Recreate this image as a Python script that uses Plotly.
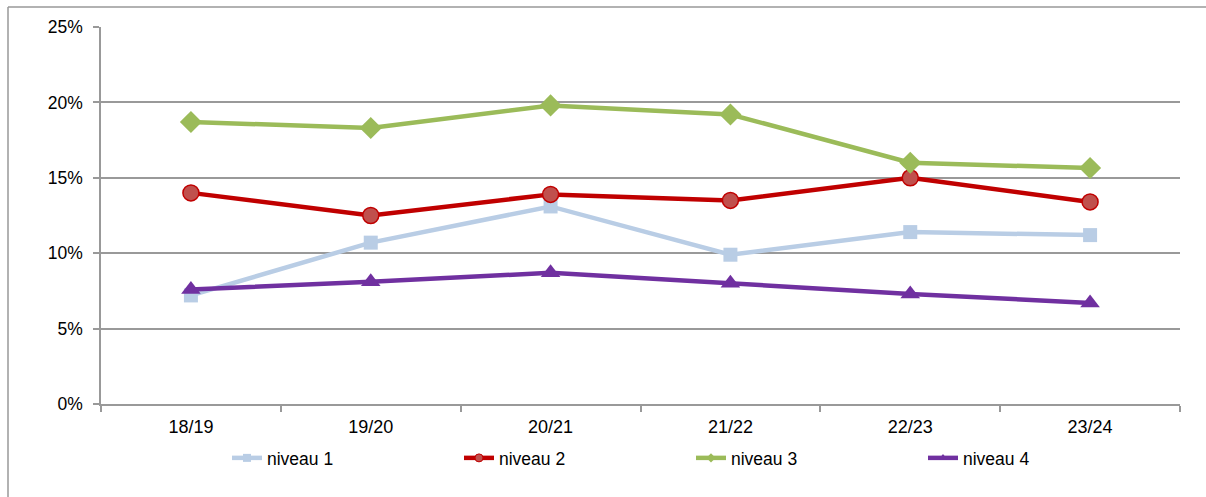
import plotly.graph_objects as go

categories = ["18/19", "19/20", "20/21", "21/22", "22/23", "23/24"]
niveau_1 = [7.2, 10.7, 13.1, 9.9, 11.4, 11.2]
niveau_2 = [14.0, 12.5, 13.9, 13.5, 15.0, 13.4]
niveau_3 = [18.7, 18.3, 19.8, 19.2, 16.0, 15.65]
niveau_4 = [7.6, 8.1, 8.7, 8.0, 7.3, 6.7]
y_ticks = [0, 5, 10, 15, 20, 25]
y_tick_labels = ["0%", "5%", "10%", "15%", "20%", "25%"]
series_names = ["niveau 1", "niveau 2", "niveau 3", "niveau 4"]

FONT = "Liberation Sans, Arial, sans-serif"

styles = [
    dict(line=dict(color="#B9CDE5", width=4.5),
         marker=dict(symbol="square", size=14, color="#B9CDE5"),
         lmarker=dict(symbol="square", size=8, color="#B9CDE5")),
    dict(line=dict(color="#C00000", width=4.5),
         marker=dict(symbol="circle", size=16, color="#C0504D", line=dict(color="#C00000", width=1.5)),
         lmarker=dict(symbol="circle", size=8, color="#C0504D", line=dict(color="#C00000", width=1))),
    dict(line=dict(color="#9BBB59", width=4.5),
         marker=dict(symbol="diamond", size=17, color="#9BBB59"),
         lmarker=dict(symbol="diamond", size=7, color="#9BBB59")),
    dict(line=dict(color="#7030A0", width=4.5),
         marker=dict(symbol="triangle-up", size=17, color="#7030A0"),
         lmarker=dict(symbol="triangle-up", size=8, color="#7030A0")),
]
values = [niveau_1, niveau_2, niveau_3, niveau_4]

fig = go.Figure()
for name, vals, st in zip(series_names, values, styles):
    fig.add_trace(go.Scatter(x=categories, y=vals, name=name, mode="lines+markers",
                             line=st["line"], marker=st["marker"], showlegend=False,
                             legendgroup=name))
# legend entries (smaller legend markers as in the original)
for name, st in zip(series_names, styles):
    fig.add_trace(go.Scatter(x=[categories[0]], y=[None], name=name, mode="lines+markers",
                             line=st["line"], marker=st["lmarker"], showlegend=True,
                             legendgroup=name, hoverinfo="skip"))

L, R, T, B = 101, 26, 27, 93
W, H = 1206, 497
pw, ph = W - L - R, H - T - B

fig.update_layout(
    width=W, height=H,
    margin=dict(l=L, r=R, t=T, b=B, pad=0, autoexpand=False),
    paper_bgcolor="white", plot_bgcolor="white",
    font=dict(family=FONT, size=17.5, color="#000000"),
    showlegend=True,
    legend=dict(orientation="h", x=(227 - L) / pw, xanchor="left",
                y=(T + ph - 458) / ph, yanchor="middle",
                entrywidth=187, entrywidthmode="pixels",
                font=dict(family=FONT, size=17.5), itemwidth=30,
                bgcolor="rgba(0,0,0,0)"),
    xaxis=dict(type="category", range=[-0.5, len(categories) - 0.5], autorange=False,
               showgrid=False, showline=True, linecolor="#999999", linewidth=1.5,
               ticks="outside", tickson="boundaries", ticklen=6, tickcolor="#999999", tickwidth=1.5,
               tickfont=dict(family=FONT, size=18), ticklabelstandoff=6),
    yaxis=dict(range=[0, 25], tickvals=y_ticks, ticktext=y_tick_labels,
               showgrid=True, gridcolor="#999999", gridwidth=1.5, zeroline=False,
               showline=True, linecolor="#999999", linewidth=1.5,
               ticks="outside", ticklen=6, tickcolor="#999999", tickwidth=1.5,
               tickfont=dict(family=FONT, size=17.5), ticklabelstandoff=7),
)

# outer chart border (top and left visible)
fig.add_shape(type="line", xref="paper", yref="paper",
              x0=(8 - L) / pw, x1=(W + 10 - L) / pw, y0=(T + ph - 7) / ph, y1=(T + ph - 7) / ph,
              line=dict(color="#999999", width=1.5))
fig.add_shape(type="line", xref="paper", yref="paper",
              x0=(8 - L) / pw, x1=(8 - L) / pw, y0=(T + ph - 7) / ph, y1=(T + ph - H - 10) / ph,
              line=dict(color="#999999", width=1.5))

fig.write_html("out.html", config={"displayModeBar": False},
               post_script="document.body.style.margin='0';document.body.style.overflow='hidden';")
